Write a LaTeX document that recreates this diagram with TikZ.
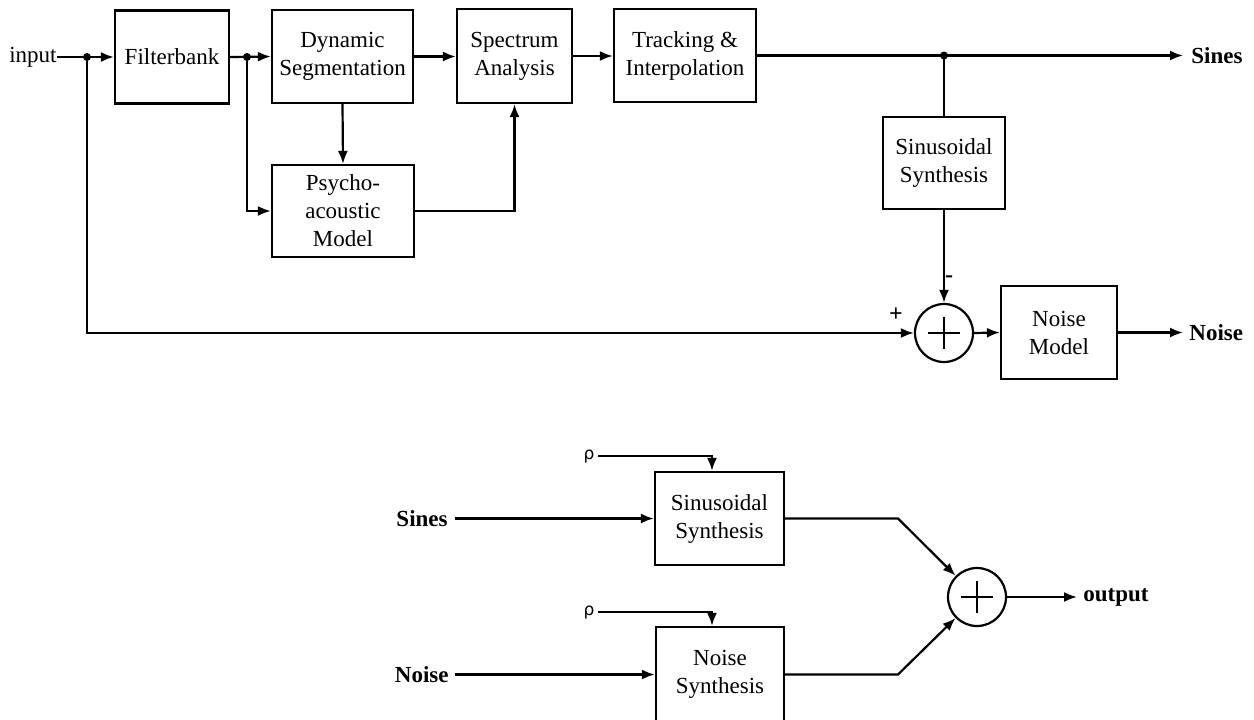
\documentclass[tikz,border=0pt]{standalone}
\usepackage{fontspec}
\setmainfont{Liberation Serif}
\newfontfamily\rhofont{DejaVu Sans}
\usetikzlibrary{arrows.meta,calc}
\begin{document}
\begin{tikzpicture}[x=0.5pt,y=-0.5pt,
  blk/.style={draw,line width=1.1pt,align=center,inner sep=0pt,font=\fontsize{11.5}{14}\selectfont},
  arr/.style={line width=1.1pt,-{Latex[length=6.5pt,width=5pt]}},
  ln/.style={line width=1.1pt},
  dotn/.style={circle,fill,inner sep=0pt,minimum size=4pt},
  lbl/.style={font=\fontsize{11.5}{14}\selectfont\bfseries,inner sep=0pt},
  txt/.style={font=\fontsize{11.5}{14}\selectfont,inner sep=0pt},
  sgn/.style={font=\fontsize{12}{12}\selectfont\bfseries,inner sep=0pt},
  rho/.style={font=\rhofont\fontsize{8.5}{8.5}\selectfont,inner sep=1.5pt},
  sumn/.style={circle,draw,line width=1.1pt,minimum size=29pt,inner sep=0pt,
    path picture={
      \draw[line width=1.1pt] ([xshift=-8pt]path picture bounding box.center) -- ([xshift=8pt]path picture bounding box.center);
      \draw[line width=1.1pt] ([yshift=-8pt]path picture bounding box.center) -- ([yshift=8pt]path picture bounding box.center);
    }}
]
\useasboundingbox (0,0) rectangle (1254,719);

% ---------- analysis (top) ----------
\node[txt,anchor=east] (in) at (57,57) {input};
\node[blk,minimum width=57pt,minimum height=46.5pt] (fb) at (172,57) {Filterbank};
\node[blk,minimum width=70.5pt,minimum height=46.5pt] (ds) at (342.5,56.5) {Dynamic\\Segmentation};
\node[blk,minimum width=71pt,minimum height=46pt] (pa) at (343,211) {Psycho-\\acoustic\\Model};
\node[blk,minimum width=57.5pt,minimum height=47pt] (sa) at (514.5,56) {Spectrum\\Analysis};
\node[blk,minimum width=71pt,minimum height=46.5pt] (ti) at (685,55.5) {Tracking \&\\Interpolation};
\node[blk,minimum width=61pt,minimum height=46pt] (ss) at (944,163) {Sinusoidal\\Synthesis};
\node[sumn] (sum) at (944,333) {};
\node[blk,minimum width=58pt,minimum height=46.5pt] (nm) at (1059,332.5) {Noise\\Model};
\node[lbl,anchor=west,inner sep=4pt] (sout) at (1183,55.5) {Sines};
\node[lbl,anchor=west,inner sep=3pt] (nout) at (1183,332.5) {Noise};
\node[sgn] (minus) at (949,279) {-};
\node[sgn] (plus) at (896,315) {+};

\coordinate (j1) at (87,57);
\coordinate (j2) at (247,57);
\coordinate (j3) at (944,55.5);
\node[dotn] (d1) at (j1) {};
\node[dotn] (d2) at (j2) {};
\node[dotn] (d3) at (j3) {};

\draw[arr] (in.east) -- (fb.west);
\draw[arr] (fb.east) -- (ds.west);
\draw[arr] (j2) |- (pa.west);
\draw[arr] (ds.south) -- (pa.north);
\draw[arr] (ds.east) -- (ds.east -| sa.west);
\draw[arr] (pa.east) -| (sa.south);
\draw[arr] (sa.east) -- (sa.east -| ti.west);
\draw[arr] (ti.east) -- (sout.west);
\draw[ln] (j3) -- (ss.north);
\draw[arr] (ss.south) -- (sum.north);
\draw[arr] (j1) |- (sum.west);
\draw[arr] (sum.east) -- (nm.west);
\draw[arr] (nm.east) -- (nout.west);

% ---------- synthesis (bottom) ----------
\node[blk,minimum width=64.5pt,minimum height=46.5pt] (bs) at (719.5,518.5) {Sinusoidal\\Synthesis};
\node[blk,minimum width=64pt,minimum height=47.5pt] (bn) at (720,674.5) {Noise\\Synthesis};
\node[sumn] (bsum) at (977,597) {};
\node[lbl,anchor=east,inner sep=3.5pt] (sin) at (455,518.5) {Sines};
\node[lbl,anchor=east,inner sep=3pt] (nin) at (455,674.5) {Noise};
\node[rho] (r1) at (589,456) {ρ};
\node[rho] (r2) at (589,612) {ρ};
\node[lbl,anchor=west,inner sep=3pt] (out) at (1077,597) {output};
\coordinate (e1) at (898,518.5);
\coordinate (e2) at (898,674.5);

\draw[arr] (sin.east) -- (bs.west);
\draw[arr] (nin.east) -- (bn.west);
\draw[arr] (r1.east) -| ($(bs.north)+(-7.5,0)$);
\draw[arr] (r2.east) -| ($(bn.north)+(-8,0)$);
\draw[arr] (bs.east) -- (e1) -- (bsum);
\draw[arr] (bn.east) -- (e2) -- (bsum);
\draw[arr] (bsum.east) -- (out.west);
\end{tikzpicture}
\end{document}
